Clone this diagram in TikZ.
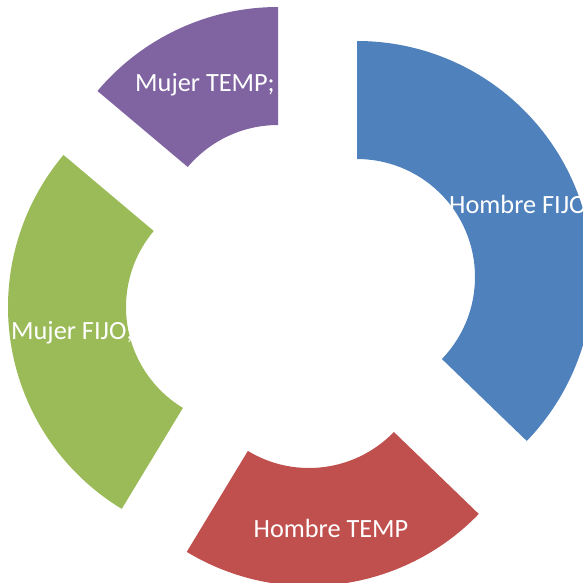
\documentclass[tikz,border=0pt]{standalone}
\usepackage{fontspec}
\setmainfont{Carlito}
\definecolor{segblue}{HTML}{4F81BD}
\definecolor{segred}{HTML}{C0504D}
\definecolor{seggreen}{HTML}{9BBB59}
\definecolor{segpurple}{HTML}{8064A2}
\tikzset{
  lbl/.style={text=white, inner sep=0pt, font=\fontsize{26.3}{31}\selectfont},
}
\newcommand{\ringseg}[5]{% color, cx, cy, a1, a2
  \begin{scope}[shift={(#2pt,-#3pt)}]
    \fill[#1] (#4:236pt) arc[start angle=#4, end angle=#5, radius=236pt]
      -- (#5:118pt) arc[start angle=#5, end angle=#4, radius=118pt] -- cycle;
  \end{scope}}
\begin{document}
\begin{tikzpicture}[x=1pt,y=1pt]
\useasboundingbox (0,0) rectangle (583,-582);
\clip (0,0) rectangle (583,-582);
\fill[white] (0,0) rectangle (583,-582);
\ringseg{segblue}{357}{277}{90}{-44}
\ringseg{segred}{309}{350}{-44}{-121.2}
\ringseg{seggreen}{244}{307}{-121.2}{-220.1}
\ringseg{segpurple}{278}{243}{139.9}{90}
\node[lbl, anchor=base west] (hf) at (449,-213.5) {Hombre FIJO};
\node[lbl, anchor=base] (ht) at (331,-537.5) {Hombre TEMP};
\node[lbl, anchor=base west] (mf) at (11,-339.5) {Mujer FIJO;};
\node[lbl, anchor=base] (mt) at (205,-91.5) {Mujer TEMP;};
\end{tikzpicture}
\end{document}
